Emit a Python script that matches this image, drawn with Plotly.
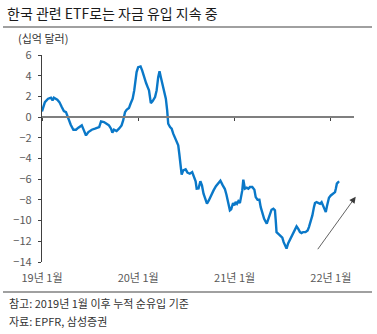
import plotly.graph_objects as go

dates = [
 "2019-01-01","2019-01-12","2019-01-24","2019-02-04","2019-02-10","2019-02-15","2019-02-28","2019-03-08",
 "2019-03-17","2019-03-25","2019-04-02","2019-04-11","2019-04-20","2019-04-30","2019-05-10","2019-05-19",
 "2019-06-01","2019-06-09","2019-06-17","2019-06-26","2019-07-09","2019-07-21","2019-07-30","2019-08-06",
 "2019-08-13","2019-08-24","2019-09-03","2019-09-12","2019-09-20","2019-09-25","2019-10-01","2019-10-11",
 "2019-10-20","2019-10-30","2019-11-05","2019-11-12","2019-11-18","2019-11-27","2019-12-03","2019-12-11",
 "2019-12-17","2019-12-26","2020-01-01","2020-01-10","2020-01-16","2020-01-24","2020-01-31","2020-02-06",
 "2020-02-11","2020-02-18","2020-02-25","2020-03-05","2020-03-11","2020-03-17","2020-03-22","2020-03-27",
 "2020-04-01","2020-04-09","2020-04-15","2020-04-20","2020-04-24","2020-05-01","2020-05-07","2020-05-13",
 "2020-05-20","2020-05-26","2020-06-01","2020-06-05","2020-06-10","2020-06-14","2020-06-20","2020-06-29",
 "2020-07-06","2020-07-15","2020-07-24","2020-08-01","2020-08-06","2020-08-10","2020-08-17","2020-08-24",
 "2020-08-30","2020-09-05","2020-09-12","2020-09-18","2020-09-25","2020-10-03","2020-10-13","2020-10-22",
 "2020-10-31","2020-11-08","2020-11-17","2020-11-25","2020-12-01","2020-12-07","2020-12-14","2020-12-19",
 "2020-12-26","2020-12-31","2021-01-05","2021-01-10","2021-01-15","2021-01-21","2021-01-25","2021-01-30",
 "2021-02-03","2021-02-07","2021-02-09","2021-02-16","2021-02-22","2021-02-28","2021-03-09","2021-03-17",
 "2021-03-22","2021-03-29","2021-04-05","2021-04-10","2021-04-16","2021-04-23","2021-05-03","2021-05-09",
 "2021-05-15","2021-05-21","2021-05-28","2021-06-03","2021-06-06","2021-06-09","2021-06-18","2021-06-26",
 "2021-07-01","2021-07-06","2021-07-11","2021-07-17","2021-07-23","2021-07-30","2021-08-05","2021-08-11",
 "2021-08-18","2021-08-24","2021-08-30","2021-09-06","2021-09-12","2021-09-18","2021-09-27","2021-10-05",
 "2021-10-10","2021-10-16","2021-10-23","2021-10-29","2021-11-02","2021-11-08","2021-11-14","2021-11-21",
 "2021-11-27","2021-12-03","2021-12-10","2021-12-13","2021-12-18","2021-12-25","2022-01-01","2022-01-10",
 "2022-01-17","2022-01-20","2022-01-24","2022-01-29","2022-02-02",
]

flows = [
 0.55, 1.45, 1.78, 1.87, 1.61, 1.87, 1.68, 1.45,
 0.97, 0.58, 0.48, -0.15, -0.74, -1.22, -1.22, -1.02,
 -0.80, -1.28, -1.77, -1.45, -1.22, -1.12, -1.02, -0.97,
 -0.42, -0.48, -0.64, -0.80, -1.12, -1.51, -1.22, -1.35,
 -1.12, -0.80, -0.32, 0.48, 0.71, 0.87, 1.29, 1.78,
 2.58, 4.35, 4.83, 4.90, 4.51, 3.71, 3.29, 2.90,
 2.58, 1.35, 1.55, 1.93, 2.58, 3.86, 4.42, 3.86,
 3.23, 2.58, 1.78, 0.65, -0.64, -0.97, -1.12, -1.60,
 -2.09, -2.33, -2.73, -3.54, -4.67, -5.55, -5.15, -5.05,
 -5.35, -5.47, -5.31, -5.85, -6.20, -6.92, -6.90, -6.20,
 -6.60, -7.40, -7.88, -8.37, -8.05, -7.57, -7.08, -6.67,
 -6.38, -6.15, -6.60, -6.95, -7.50, -8.30, -9.00, -8.90,
 -8.30, -8.53, -8.20, -8.37, -8.12, -8.31, -7.88, -7.08,
 -6.05, -6.60, -6.92, -6.82, -6.92, -6.76, -6.76, -7.02,
 -7.73, -7.98, -7.98, -8.70, -9.33, -9.82, -10.30, -9.82,
 -9.33, -8.95, -8.85, -9.01, -9.98, -11.11, -11.33, -11.53,
 -11.65, -12.08, -12.30, -12.70, -12.20, -11.85, -11.60, -11.27,
 -11.00, -10.56, -10.78, -11.11, -11.21, -11.11, -11.11, -10.95,
 -10.63, -10.14, -9.50, -8.70, -8.31, -8.21, -8.31, -8.37,
 -8.21, -8.53, -9.01, -9.18, -8.53, -7.79, -7.57, -7.40,
 -7.25, -6.92, -6.43, -6.28, -6.21,
]

x_tick_vals = ["2019-01-01", "2020-01-01", "2021-01-01", "2022-01-01"]
x_tick_text = ["19년 1월", "20년 1월", "21년 1월", "22년 1월"]
y_tick_vals = [6, 4, 2, 0, -2, -4, -6, -8, -10, -12, -14]

title_text = "한국 관련 ETF로는 자금 유입 지속 중"
unit_text = "(십억 달러)"
note_text = "참고: 2019년 1월 이후 누적 순유입 기준"
source_text = "자료: EPFR, 삼성증권"

FONT = "Noto Sans CJK KR"
W, H = 377, 334
L, R, T, B = 42, 23, 55, 72

fig = go.Figure()
fig.add_trace(go.Scatter(
    x=dates, y=flows, mode="lines",
    line=dict(color="#0A78C8", width=2.4),
    showlegend=False, hoverinfo="skip",
))
# invisible trace on overlay axis to draw the zero-crossing category axis
fig.add_trace(go.Scatter(x=[dates[0]], y=[0], xaxis="x2", mode="markers",
                         marker=dict(opacity=0), showlegend=False, hoverinfo="skip"))

xr = ["2019-01-01", "2022-03-30"]
fig.update_layout(
    width=W, height=H,
    margin=dict(l=L, r=R, t=T, b=B),
    paper_bgcolor="white", plot_bgcolor="white",
    font=dict(family=FONT, size=11, color="#595959"),
    xaxis=dict(
        type="date", range=xr, tickvals=x_tick_vals, ticktext=x_tick_text,
        showgrid=False, zeroline=False, showline=False, ticks="",
        tickfont=dict(size=11, color="#595959"), ticklabelstandoff=8,
    ),
    xaxis2=dict(
        type="date", range=xr, overlaying="x", anchor="free", position=0.7,
        tickvals=x_tick_vals, showticklabels=False, showgrid=False, zeroline=False,
        showline=True, linecolor="#7F7F7F", linewidth=1.5,
        ticks="outside", ticklen=3, tickcolor="#404040", tickwidth=1,
    ),
    yaxis=dict(
        range=[-14, 6], tickvals=y_tick_vals, showgrid=False, zeroline=False,
        showline=True, linecolor="#404040", linewidth=1.2,
        ticks="outside", ticklen=3, tickcolor="#404040", tickwidth=1,
        tickfont=dict(size=11, color="#595959"), ticklabelstandoff=4,
    ),
)

# decorative rules above and below the chart
fig.add_shape(type="line", xref="paper", yref="paper",
              x0=-L / (W - L - R) + 3 / (W - L - R), x1=(372 - L) / (W - L - R),
              y0=(H - B - 27) / (H - T - B), y1=(H - B - 27) / (H - T - B),
              line=dict(color="#808080", width=1.5))
fig.add_shape(type="line", xref="paper", yref="paper",
              x0=-L / (W - L - R) + 3 / (W - L - R), x1=(372 - L) / (W - L - R),
              y0=(H - B - 292) / (H - T - B), y1=(H - B - 292) / (H - T - B),
              line=dict(color="#808080", width=1.5))

pw, ph = W - L - R, H - T - B
def px(xp):
    return (xp - L) / pw
def py(yp):
    return (H - B - yp) / ph

fig.add_annotation(text=title_text, xref="paper", yref="paper", x=px(5), y=py(13),
                   xanchor="left", yanchor="middle", showarrow=False,
                   font=dict(family=FONT, size=14, color="#1A1A1A"))
fig.add_annotation(text=unit_text, xref="paper", yref="paper", x=px(16), y=py(38),
                   xanchor="left", yanchor="middle", showarrow=False,
                   font=dict(family=FONT, size=11, color="#333333"))
fig.add_annotation(text=note_text, xref="paper", yref="paper", x=px(7), y=py(303),
                   xanchor="left", yanchor="middle", showarrow=False,
                   font=dict(family=FONT, size=11, color="#333333"))
fig.add_annotation(text=source_text, xref="paper", yref="paper", x=px(7), y=py(321),
                   xanchor="left", yanchor="middle", showarrow=False,
                   font=dict(family=FONT, size=11, color="#333333"))
# trend arrow
fig.add_annotation(text="", xref="paper", yref="paper", x=px(355.7), y=py(196.7),
                   ax=-39, ay=54, showarrow=True, arrowhead=2, arrowsize=1.6,
                   arrowwidth=0.8, arrowcolor="#3A3A3A")

fig.write_html("out.html")
